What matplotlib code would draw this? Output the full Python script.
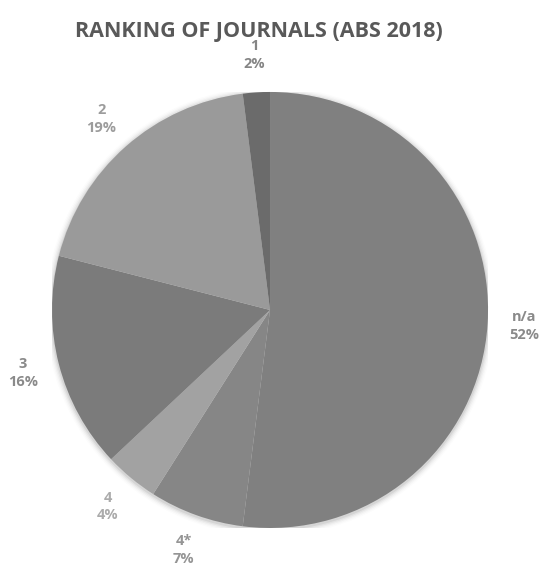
import matplotlib.pyplot as plt
from matplotlib.patches import Circle

plt.rcParams['font.family'] = ['Open Sans', 'DejaVu Sans']

# 期刊等级分布
ranks = ['n/a', '4*', '4', '3', '2', '1']
shares = [52, 7, 4, 16, 19, 2]
wedge_colors = ['#808080', '#868686', '#a2a2a2', '#7b7b7b', '#9a9a9a', '#6b6b6b']
label_colors = ['#8a8a8a', '#959595', '#ababab', '#8a8a8a', '#9c9c9c', '#858585']

fig = plt.figure(figsize=(5.43, 5.67), dpi=100)
ax = fig.add_axes([0.0958, 0.0688, 0.803, 0.769])

# 柔和阴影
for i, a in enumerate([0.06, 0.045, 0.03, 0.02, 0.01]):
    ax.add_patch(Circle((0.0, -0.006), 1.0 + 0.006 * (i + 1), color='#000000',
                        alpha=a, lw=0, zorder=0))

labels = [f'{r}\n{s}%' for r, s in zip(ranks, shares)]
wedges, texts = ax.pie(shares, labels=labels, colors=wedge_colors, startangle=90,
                       counterclock=False, labeldistance=1.17, radius=1,
                       wedgeprops=dict(linewidth=0),
                       textprops=dict(fontsize=10.5, fontweight='bold'))
for t, c in zip(texts, label_colors):
    t.set_horizontalalignment('center')
    t.set_verticalalignment('center')
    t.set_color(c)
    t.set_linespacing(1.35)

ax.set_xlim(-1, 1)
ax.set_ylim(-1, 1)
ax.set_aspect('equal')
ax.axis('off')

fig.text(0.477, 1 - 31 / 567, 'RANKING OF JOURNALS (ABS 2018)', ha='center', va='center',
         fontsize=15.5, fontweight='bold', color='#595959')

fig.savefig('out.png', dpi=100)
